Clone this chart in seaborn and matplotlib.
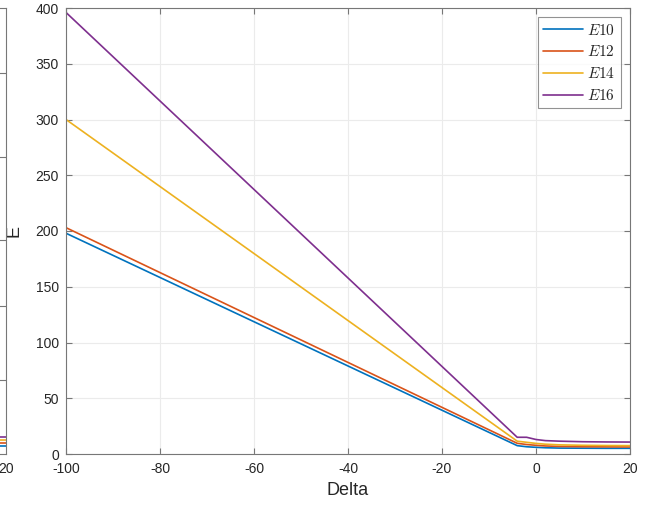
import matplotlib
matplotlib.use("Agg")
import matplotlib.pyplot as plt
import seaborn as sns
import pandas as pd

# ---- data ----
delta = [-100, -4, -2, 0, 2, 5, 10, 15, 20]
E10 = [198, 7.5, 6.5, 6.0, 5.6, 5.3, 5.2, 5.1, 5.1]
E12 = [203, 9.6, 8.5, 7.8, 7.2, 6.8, 6.5, 6.4, 6.3]
E14 = [300, 11.5, 10.5, 9.5, 8.8, 8.2, 7.8, 7.6, 7.5]
E16 = [396, 15.0, 15.0, 13.0, 12.0, 11.5, 11.0, 10.8, 10.7]
series_names = ["$E10$", "$E12$", "$E14$", "$E16$"]
colors = ["#0072BD", "#D95319", "#EDB120", "#7E2F8E"]
x_ticks = [-100, -80, -60, -40, -20, 0, 20]
y_ticks = [0, 50, 100, 150, 200, 250, 300, 350, 400]

# neighbouring (cropped) panel on the left edge
side_x = [0, 20]
side_vals = [8, 11.3, 14, 16.7]
side_ticks = [74, 148, 214, 297, 381]

sns.set_style("white")
plt.rcParams["font.family"] = ["Liberation Sans", "DejaVu Sans"]
plt.rcParams["mathtext.fontset"] = "cm"
plt.rcParams["axes.unicode_minus"] = False

frames = []
for name, vals in zip(series_names, [E10, E12, E14, E16]):
    frames.append(pd.DataFrame({"Delta": delta, "E": vals, "series": name}))
df = pd.concat(frames, ignore_index=True)

side_frames = []
for name, v in zip(series_names, side_vals):
    side_frames.append(pd.DataFrame({"x": side_x, "y": [v, v], "series": name}))
sdf = pd.concat(side_frames, ignore_index=True)

W, H = 649, 505
fig = plt.figure(figsize=(W / 100, H / 100), dpi=100)

L, R, T, B = 66, 630, 8, 454
pos = [L / W, (H - B) / H, (R - L) / W, (B - T) / H]
ax = fig.add_axes(pos)

spine_col = "#777777"
text_col = "#262626"
grid_col = "#ebebeb"

sns.lineplot(data=df, x="Delta", y="E", hue="series", palette=colors,
             ax=ax, linewidth=1.2, legend=True, sort=False)

ax.set_xlim(-100, 20)
ax.set_ylim(0, 400)
ax.set_xticks(x_ticks)
ax.set_yticks(y_ticks)
ax.grid(True, color=grid_col, linewidth=0.8)
ax.set_axisbelow(True)
for s in ax.spines.values():
    s.set_color(spine_col)
    s.set_linewidth(0.8)
    s.set_visible(True)
ax.tick_params(direction="in", length=4.5, width=0.8, color=spine_col,
               labelcolor=text_col, labelsize=10, top=True, right=True,
               bottom=True, left=True)
ax.tick_params(axis="x", pad=6)
ax.tick_params(axis="y", pad=5)
ax.set_xlabel("Delta", fontsize=13, color=text_col)
ax.set_ylabel("E", fontsize=13, color=text_col)
ax.xaxis.set_label_coords(0.5, -0.062)
ax.yaxis.set_label_coords(-0.077, 0.5)

leg = ax.legend(loc="upper right", fontsize=11, frameon=True, fancybox=False,
                handlelength=2.6, borderpad=0.35, labelspacing=0.45,
                handletextpad=0.3, borderaxespad=0.6)
leg.get_frame().set_edgecolor(spine_col)
leg.get_frame().set_linewidth(0.8)
for t in leg.get_texts():
    t.set_color(text_col)

# cropped neighbouring panel at the far left
sw = (R - L) / W
ax2 = fig.add_axes([6 / W - sw, (H - B) / H, sw, (B - T) / H])
sns.lineplot(data=sdf, x="x", y="y", hue="series", palette=colors, ax=ax2,
             linewidth=1.2, legend=False)
ax2.set_xlim(-100, 20)
ax2.set_ylim(0, B - T)
ax2.set_xticks([20])
ax2.set_yticks(side_ticks)
ax2.set_yticklabels([])
ax2.set_xlabel("")
ax2.set_ylabel("")
for s in ax2.spines.values():
    s.set_color(spine_col)
    s.set_linewidth(0.8)
ax2.tick_params(direction="in", length=6, width=0.8, color=spine_col,
                labelcolor=text_col, labelsize=10, right=True, left=False)
ax2.tick_params(axis="x", pad=6)

fig.savefig("out.png", dpi=100)
